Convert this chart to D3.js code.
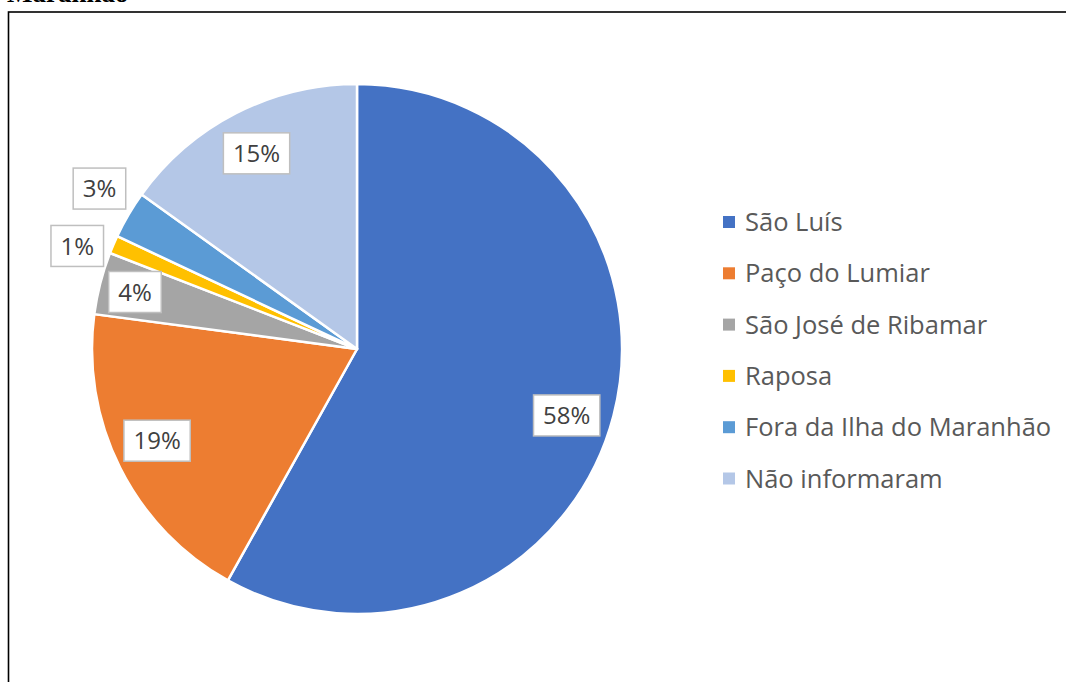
<!DOCTYPE html>
<html>
<head>
<meta charset="utf-8">
<script src="https://cdn.jsdelivr.net/npm/d3@7"></script>
<style>
  html, body { margin: 0; padding: 0; background: #fff; overflow: hidden; }
  svg { display: block; }
</style>
</head>
<body>
<div id="chart"></div>
<script>
// Chart data
const categories = ["São Luís", "Paço do Lumiar", "São José de Ribamar", "Raposa", "Fora da Ilha do Maranhão", "Não informaram"];
const shares = [58.1, 19.0, 3.8, 1.1, 2.9, 15.1];
const colors = ["#4472C4", "#ED7D31", "#A5A5A5", "#FFC000", "#5B9BD5", "#B4C7E7"];

const width = 1066;
const height = 682;

const svg = d3.select("#chart").append("svg")
    .attr("width", width)
    .attr("height", height);

// caption cut off by the top of the page
svg.append("text")
    .attr("x", 7)
    .attr("y", 2)
    .attr("font-family", "Liberation Serif")
    .attr("font-weight", "bold")
    .attr("font-size", 27)
    .attr("fill", "#000")
    .text("Maranhão");

// frame around the chart
svg.append("rect")
    .attr("x", 8.5)
    .attr("y", 12)
    .attr("width", 1200)
    .attr("height", 900)
    .attr("fill", "none")
    .attr("stroke", "#000")
    .attr("stroke-width", 1.6);

const cx = 357, cy = 349, radius = 265;

const pie = d3.pie().sort(null).value(d => d.value);
const arcs = pie(categories.map((c, i) => ({ name: c, value: shares[i], color: colors[i] })));
const arc = d3.arc().innerRadius(0).outerRadius(radius);

const g = svg.append("g").attr("transform", `translate(${cx},${cy})`);

g.selectAll("path")
    .data(arcs)
    .join("path")
    .attr("d", arc)
    .attr("fill", d => d.data.color)
    .attr("stroke", "#fff")
    .attr("stroke-width", 2.5)
    .attr("stroke-linejoin", "round");

// label placement: radius factor and angle nudge (degrees) per slice
const labelPlace = [[0.83, 3], [0.83, 2], [0.865, 0], [1.125, -3], [1.145, 1.5], [0.83, 0]];
const total = d3.sum(shares);

const labels = g.selectAll("g.label")
    .data(arcs)
    .join("g")
    .attr("class", "label")
    .attr("transform", (d, i) => {
        const a = (d.startAngle + d.endAngle) / 2 + labelPlace[i][1] * Math.PI / 180;
        const r = radius * labelPlace[i][0];
        return `translate(${r * Math.sin(a)},${-r * Math.cos(a)})`;
    });

labels.each(function (d) {
    const lg = d3.select(this);
    const t = lg.append("text")
        .attr("text-anchor", "middle")
        .attr("dy", "0.36em")
        .attr("font-family", "Open Sans")
        .attr("font-size", 24)
        .attr("fill", "#404040")
        .text(Math.round(d.data.value / total * 100) + "%");
    const w = t.node().getComputedTextLength() + 19;
    lg.insert("rect", "text")
        .attr("x", -w / 2)
        .attr("y", -20.5)
        .attr("width", w)
        .attr("height", 41)
        .attr("fill", "#fff")
        .attr("stroke", "#BFBFBF")
        .attr("stroke-width", 1.5);
});

// legend
const legend = svg.append("g").attr("transform", "translate(723,222)");
const rows = legend.selectAll("g")
    .data(categories)
    .join("g")
    .attr("transform", (d, i) => `translate(0,${i * 51.3})`);

rows.append("rect")
    .attr("x", 0)
    .attr("y", -6)
    .attr("width", 12)
    .attr("height", 12)
    .attr("fill", (d, i) => colors[i]);

rows.append("text")
    .attr("x", 22)
    .attr("dy", "0.36em")
    .attr("font-family", "Open Sans")
    .attr("font-size", 25.5)
    .attr("fill", "#595959")
    .text(d => d);
</script>
</body>
</html>
